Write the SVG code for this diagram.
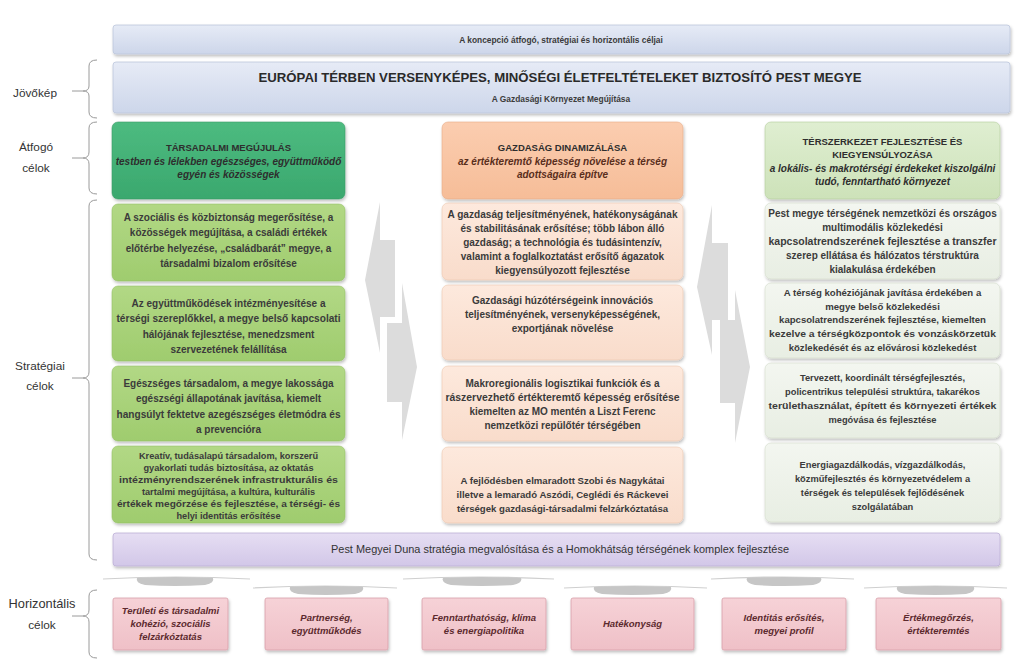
<svg xmlns="http://www.w3.org/2000/svg" width="1024" height="663" viewBox="0 0 1024 663">
<defs>
<filter id="sh" x="-5%" y="-10%" width="110%" height="130%">
<feDropShadow dx="1" dy="2" stdDeviation="1.4" flood-color="#000" flood-opacity="0.25"/>
</filter>
<linearGradient id="gBlue" x1="0" y1="0" x2="0" y2="1"><stop offset="0" stop-color="#e6ebf6"/><stop offset="1" stop-color="#cdd6ea"/></linearGradient>
<linearGradient id="gGreenH" x1="0" y1="0" x2="0" y2="1"><stop offset="0" stop-color="#4dbb80"/><stop offset="1" stop-color="#3aa86e"/></linearGradient>
<linearGradient id="gGreen" x1="0" y1="0" x2="0" y2="1"><stop offset="0" stop-color="#b2d885"/><stop offset="1" stop-color="#9fcc6e"/></linearGradient>
<linearGradient id="gPeachH" x1="0" y1="0" x2="0" y2="1"><stop offset="0" stop-color="#fbcdb0"/><stop offset="1" stop-color="#f6bd98"/></linearGradient>
<linearGradient id="gPeach" x1="0" y1="0" x2="0" y2="1"><stop offset="0" stop-color="#fde9dd"/><stop offset="1" stop-color="#f9dccb"/></linearGradient>
<linearGradient id="gSageH" x1="0" y1="0" x2="0" y2="1"><stop offset="0" stop-color="#dfeed1"/><stop offset="1" stop-color="#cde2b9"/></linearGradient>
<linearGradient id="gSage" x1="0" y1="0" x2="0" y2="1"><stop offset="0" stop-color="#f3f6f0"/><stop offset="1" stop-color="#e8eee3"/></linearGradient>
<linearGradient id="gPurple" x1="0" y1="0" x2="0" y2="1"><stop offset="0" stop-color="#e6def3"/><stop offset="1" stop-color="#d2c7e8"/></linearGradient>
<linearGradient id="gPink" x1="0" y1="0" x2="0" y2="1"><stop offset="0" stop-color="#f6d2d7"/><stop offset="1" stop-color="#efc0c7"/></linearGradient>
</defs>
<style>
text{font-family:"Liberation Sans",Arial,sans-serif;text-anchor:middle;}
.a,.b,.c,.d,.s{font-weight:bold;fill:#3b3b3b;}
.a{font-size:10px;}
.b{font-size:9.6px;}
.c{font-size:9.3px;}
.d{font-size:9.2px;}
.s{font-size:8.4px;}
.h{font-size:9.5px;font-weight:bold;fill:#2e2e2e;}
.i{font-size:10px;font-weight:bold;font-style:italic;fill:#2e2e2e;}
.im{font-size:10px;font-weight:bold;font-style:italic;fill:#5a2e1c;}
.hz{font-size:9.5px;font-weight:bold;font-style:italic;fill:#5c2a2e;}
.lab{font-size:11.8px;fill:#333;text-anchor:middle;}
.box{filter:url(#sh);}
.br{fill:none;stroke:#9a9a9a;stroke-width:1;}
.arr{fill:#dcdcdc;}
.hl{fill:none;stroke:#cfcfcf;stroke-width:1.2;}
.hb{fill:#c6c6c6;}
</style>
<rect width="1024" height="663" fill="#ffffff"/>

<g id="top-bar">
<rect class="box" x="113" y="25" width="897" height="29" rx="3" fill="url(#gBlue)" stroke="#bcc7dc" stroke-width="0.8"/>
<text class="s" x="561" y="43">A koncepció átfogó, stratégiai és horizontális céljai</text>
</g>

<g id="jovokep">
<rect class="box" x="113" y="62" width="897" height="51" rx="3" fill="url(#gBlue)" stroke="#bcc7dc" stroke-width="0.8"/>
<text x="560" y="82" style="font-size:13.2px;font-weight:bold;fill:#2a2a2a">EURÓPAI TÉRBEN VERSENYKÉPES, MINŐSÉGI ÉLETFELTÉTELEKET BIZTOSÍTÓ PEST MEGYE</text>
<text class="s" x="561" y="102">A Gazdasági Környezet Megújítása</text>
</g>

<g id="labels">
<text class="lab" x="35" y="97">Jövőkép</text>
<text class="lab" x="36" y="151">Átfogó</text>
<text class="lab" x="36" y="172">célok</text>
<text class="lab" x="40" y="370">Stratégiai</text>
<text class="lab" x="40" y="390">célok</text>
<text class="lab" x="42" y="608" style="font-size:12.8px">Horizontális</text>
<text class="lab" x="42" y="629">célok</text>
</g>

<g id="tarsadalmi-header">
<rect class="box" x="112" y="122" width="233" height="77" rx="6" fill="url(#gGreenH)" stroke="#3a9c66" stroke-width="0.6"/>
<text class="h" x="228.5" y="151">TÁRSADALMI MEGÚJULÁS</text>
<text class="i" x="228.5" y="164.5">testben és lélekben egészséges, együttműködő</text>
<text class="i" x="228.5" y="177.5">egyén és közösségek</text>
</g>
<g id="tarsadalmi-1">
<rect class="box" x="112" y="204" width="233" height="77" rx="6" fill="url(#gGreen)" stroke="#93bf66" stroke-width="0.6"/>
<text class="a" x="228.5" y="220.5">A szociális és közbiztonság megerősítése, a</text>
<text class="a" x="228.5" y="236">közösségek megújítása, a családi értékek</text>
<text class="a" x="228.5" y="251.5">előtérbe helyezése, „családbarát” megye, a</text>
<text class="a" x="228.5" y="267">társadalmi bizalom erősítése</text>
</g>
<g id="tarsadalmi-2">
<rect class="box" x="112" y="286" width="233" height="75" rx="6" fill="url(#gGreen)" stroke="#93bf66" stroke-width="0.6"/>
<text class="a" x="228.5" y="306.5">Az együttműködések intézményesítése a</text>
<text class="a" x="228.5" y="322" textLength="224" lengthAdjust="spacingAndGlyphs">térségi szereplőkkel, a megye belső kapcsolati</text>
<text class="a" x="228.5" y="337.5">hálójának fejlesztése, menedzsment</text>
<text class="a" x="228.5" y="353">szervezetének felállítása</text>
</g>
<g id="tarsadalmi-3">
<rect class="box" x="112" y="366" width="233" height="75" rx="6" fill="url(#gGreen)" stroke="#93bf66" stroke-width="0.6"/>
<text class="a" x="228.5" y="386.5">Egészséges társadalom, a megye lakossága</text>
<text class="a" x="228.5" y="402">egészségi állapotának javítása, kiemelt</text>
<text class="a" x="228.5" y="417.5" textLength="224" lengthAdjust="spacingAndGlyphs">hangsúlyt fektetve azegészséges életmódra és</text>
<text class="a" x="228.5" y="433">a prevencióra</text>
</g>
<g id="tarsadalmi-4">
<rect class="box" x="112" y="446" width="233" height="77" rx="6" fill="url(#gGreen)" stroke="#93bf66" stroke-width="0.6"/>
<text class="d" x="228.5" y="459">Kreatív, tudásalapú társadalom, korszerű</text>
<text class="d" x="228.5" y="471">gyakorlati tudás biztosítása, az oktatás</text>
<text class="d" x="228.5" y="483" textLength="219" lengthAdjust="spacingAndGlyphs">intézményrendszerének infrastrukturális és</text>
<text class="d" x="228.5" y="495">tartalmi megújítása, a kultúra, kulturális</text>
<text class="d" x="228.5" y="507" textLength="223" lengthAdjust="spacingAndGlyphs">értékek megőrzése és fejlesztése, a térségi- és</text>
<text class="d" x="228.5" y="519">helyi identitás erősítése</text>
</g>

<g id="gazdasag-header">
<rect class="box" x="442" y="122" width="241" height="77" rx="6" fill="url(#gPeachH)" stroke="#e8ab86" stroke-width="0.6"/>
<text class="h" x="562.5" y="151">GAZDASÁG DINAMIZÁLÁSA</text>
<text class="im" x="562.5" y="164.5">az értékteremtő képesség növelése a térség</text>
<text class="im" x="562.5" y="177.5">adottságaira építve</text>
</g>
<g id="gazdasag-1">
<rect class="box" x="442" y="203" width="241" height="77" rx="6" fill="url(#gPeach)" stroke="#ecc7b0" stroke-width="0.6"/>
<text class="a" x="562.5" y="218" textLength="230" lengthAdjust="spacingAndGlyphs">A gazdaság teljesítményének, hatékonyságának</text>
<text class="a" x="562.5" y="232">és stabilitásának erősítése; több lábon álló</text>
<text class="a" x="562.5" y="246">gazdaság; a technológia és tudásintenzív,</text>
<text class="a" x="562.5" y="260">valamint a foglalkoztatást erősítő ágazatok</text>
<text class="a" x="562.5" y="274">kiegyensúlyozott fejlesztése</text>
</g>
<g id="gazdasag-2">
<rect class="box" x="442" y="285" width="241" height="75" rx="6" fill="url(#gPeach)" stroke="#ecc7b0" stroke-width="0.6"/>
<text class="a" x="562.5" y="304">Gazdasági húzótérségeink innovációs</text>
<text class="a" x="562.5" y="318">teljesítményének, versenyképességének,</text>
<text class="a" x="562.5" y="332">exportjának növelése</text>
</g>
<g id="gazdasag-3">
<rect class="box" x="442" y="366" width="241" height="75" rx="6" fill="url(#gPeach)" stroke="#ecc7b0" stroke-width="0.6"/>
<text class="a" x="562.5" y="387">Makroregionális logisztikai funkciók és a</text>
<text class="a" x="562.5" y="401" textLength="234" lengthAdjust="spacingAndGlyphs">rászervezhető értékteremtő képesség erősítése</text>
<text class="a" x="562.5" y="415">kiemelten az MO mentén a Liszt Ferenc</text>
<text class="a" x="562.5" y="429">nemzetközi repülőtér térségében</text>
</g>
<g id="gazdasag-4">
<rect class="box" x="442" y="447" width="241" height="76" rx="6" fill="url(#gPeach)" stroke="#ecc7b0" stroke-width="0.6"/>
<text class="b" x="562.5" y="484">A fejlődésben elmaradott Szobi és Nagykátai</text>
<text class="b" x="562.5" y="498">illetve a lemaradó Aszódi, Ceglédi és Ráckevei</text>
<text class="b" x="562.5" y="512">térségek gazdasági-társadalmi felzárkóztatása</text>
</g>

<g id="terszerkezet-header">
<rect class="box" x="765" y="122" width="235" height="77" rx="6" fill="url(#gSageH)" stroke="#b3cd9c" stroke-width="0.6"/>
<text class="h" x="882.5" y="145">TÉRSZERKEZET FEJLESZTÉSE ÉS</text>
<text class="h" x="882.5" y="158">KIEGYENSÚLYOZÁSA</text>
<text class="i" x="882.5" y="171.5">a lokális- és makrotérségi érdekeket kiszolgálni</text>
<text class="i" x="882.5" y="184.5">tudó, fenntartható környezet</text>
</g>
<g id="terszerkezet-1">
<rect class="box" x="765" y="203" width="235" height="76" rx="6" fill="url(#gSage)" stroke="#d3dccb" stroke-width="0.6"/>
<text class="a" x="882.5" y="217">Pest megye térségének nemzetközi és országos</text>
<text class="a" x="882.5" y="231">multimodális közlekedési</text>
<text class="a" x="882.5" y="245" textLength="228" lengthAdjust="spacingAndGlyphs">kapcsolatrendszerének fejlesztése a transzfer</text>
<text class="a" x="882.5" y="259">szerep ellátása és hálózatos térstruktúra</text>
<text class="a" x="882.5" y="273">kialakulása érdekében</text>
</g>
<g id="terszerkezet-2">
<rect class="box" x="765" y="283" width="235" height="75" rx="6" fill="url(#gSage)" stroke="#d3dccb" stroke-width="0.6"/>
<text class="b" x="882.5" y="296">A térség kohéziójának javítása érdekében a</text>
<text class="b" x="882.5" y="309.5">megye belső közlekedési</text>
<text class="b" x="882.5" y="323">kapcsolatrendszerének fejlesztése, kiemelten</text>
<text class="b" x="882.5" y="337" textLength="227" lengthAdjust="spacingAndGlyphs">kezelve a térségközpontok és vonzáskörzetük</text>
<text class="b" x="882.5" y="351">közlekedését és az elővárosi közlekedést</text>
</g>
<g id="terszerkezet-3">
<rect class="box" x="765" y="363" width="235" height="75" rx="6" fill="url(#gSage)" stroke="#d3dccb" stroke-width="0.6"/>
<text class="c" x="882.5" y="381">Tervezett, koordinált térségfejlesztés,</text>
<text class="c" x="882.5" y="395">policentrikus települési struktúra, takarékos</text>
<text class="c" x="882.5" y="409" textLength="228" lengthAdjust="spacingAndGlyphs">területhasználat, épített és környezeti értékek</text>
<text class="c" x="882.5" y="423">megóvása és fejlesztése</text>
</g>
<g id="terszerkezet-4">
<rect class="box" x="765" y="443" width="235" height="79" rx="6" fill="url(#gSage)" stroke="#d3dccb" stroke-width="0.6"/>
<text class="c" x="882.5" y="468">Energiagazdálkodás, vízgazdálkodás,</text>
<text class="c" x="882.5" y="482">közműfejlesztés és környezetvédelem a</text>
<text class="c" x="882.5" y="496">térségek és települések fejlődésének</text>
<text class="c" x="882.5" y="510">szolgálatában</text>
</g>

<g id="duna-bar">
<rect class="box" x="113" y="533" width="887" height="33" rx="3" fill="url(#gPurple)" stroke="#bcb0d6" stroke-width="0.8"/>
<text x="560" y="553" textLength="458" lengthAdjust="spacingAndGlyphs" style="font-size:10.4px;fill:#333">Pest Megyei Duna stratégia megvalósítása és a Homokhátság térségének komplex fejlesztése</text>
</g>

<g id="h1">
<rect class="box" x="113" y="598" width="115" height="52" rx="2" fill="url(#gPink)" stroke="#d8a0a9" stroke-width="0.8"/>
<text class="hz" x="170.5" y="614">Területi és társadalmi</text>
<text class="hz" x="170.5" y="627">kohézió, szociális</text>
<text class="hz" x="170.5" y="640">felzárkóztatás</text>
</g>
<g id="h2">
<rect class="box" x="265" y="598" width="123" height="52" rx="2" fill="url(#gPink)" stroke="#d8a0a9" stroke-width="0.8"/>
<text class="hz" x="326.5" y="621">Partnerség,</text>
<text class="hz" x="326.5" y="634">együttműködés</text>
</g>
<g id="h3">
<rect class="box" x="422" y="598" width="124" height="52" rx="2" fill="url(#gPink)" stroke="#d8a0a9" stroke-width="0.8"/>
<text class="hz" x="484" y="621">Fenntarthatóság, klíma</text>
<text class="hz" x="484" y="634">és energiapolitika</text>
</g>
<g id="h4">
<rect class="box" x="571" y="598" width="123" height="52" rx="2" fill="url(#gPink)" stroke="#d8a0a9" stroke-width="0.8"/>
<text class="hz" x="632.5" y="627">Hatékonyság</text>
</g>
<g id="h5">
<rect class="box" x="722" y="598" width="124" height="52" rx="2" fill="url(#gPink)" stroke="#d8a0a9" stroke-width="0.8"/>
<text class="hz" x="784" y="621">Identitás erősítés,</text>
<text class="hz" x="784" y="634">megyei profil</text>
</g>
<g id="h6">
<rect class="box" x="876" y="598" width="125" height="52" rx="2" fill="url(#gPink)" stroke="#d8a0a9" stroke-width="0.8"/>
<text class="hz" x="938.5" y="621">Értékmegőrzés,</text>
<text class="hz" x="938.5" y="634">értékteremtés</text>
</g>

<g id="connectors">
<path class="br" d="M97,60 Q89,60 89,66 L89,86 Q89,91 83,91 Q89,91 89,96 L89,112 Q89,118 97,118"/>
<path class="br" d="M72,91 L83,91"/>
<path class="br" d="M97,122 Q89,122 89,128 L89,152 Q89,158 83,158 Q89,158 89,164 L89,188 Q89,194 97,194"/>
<path class="br" d="M72,158 L83,158"/>
<path class="br" d="M97,200 Q89,200 89,206 L89,372 Q89,378 83,378 Q89,378 89,384 L89,554 Q89,560 97,560"/>
<path class="br" d="M72,378 L83,378"/>
<path class="br" d="M97,590 Q89,590 89,596 L89,610 Q89,616 83,616 Q89,616 89,622 L89,652 Q89,658 97,658"/>
<path class="br" d="M72,616 L83,616"/>

<polygon class="arr" points="380,202 365,280 380,353 380,317 395,317 395,240 380,240"/>
<polygon class="arr" points="387,323 402,323 402,283 417,367 402,440 402,402 387,402"/>
<polygon class="arr" points="712,205 697,287 712,355 712,320 728,320 728,243 712,243"/>
<polygon class="arr" points="720,320 735,320 735,290 750,367 735,443 735,403 720,403"/>

<path class="hl" d="M103,579 Q176,575 250,579"/>
<path class="hb" d="M137,578 Q175,576 213,578 Q215,583 205,585 Q175,587 145,585 Q135,583 137,578 Z"/>
<path class="hl" d="M253,588 Q325,584 397,588"/>
<path class="hb" d="M290,587 Q326,585 363,587 Q365,592 355,594 Q326,596 298,594 Q288,592 290,587 Z"/>
<path class="hl" d="M403,579 Q478,575 554,579"/>
<path class="hb" d="M443,578 Q482,576 521,578 Q523,583 513,585 Q482,587 451,585 Q441,583 443,578 Z"/>
<path class="hl" d="M564,588 Q635,584 707,588"/>
<path class="hb" d="M594,587 Q632,585 671,587 Q673,592 663,594 Q632,596 602,594 Q592,592 594,587 Z"/>
<path class="hl" d="M711,579 Q782,575 854,579"/>
<path class="hb" d="M747,578 Q784,576 821,578 Q823,583 813,585 Q784,587 755,585 Q745,583 747,578 Z"/>
<path class="hl" d="M864,588 Q935,584 1007,588"/>
<path class="hb" d="M897,587 Q935,585 974,587 Q976,592 966,594 Q935,596 905,594 Q895,592 897,587 Z"/>
</g>
</svg>
